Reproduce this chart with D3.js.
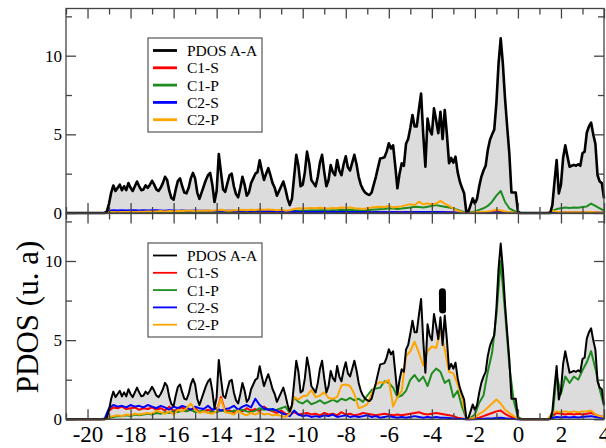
<!DOCTYPE html>
<html lang="en">
<head>
    <meta charset="UTF-8">
    <title>PDOS A-A</title>
    <script src="https://d3js.org/d3.v7.min.js"></script>
    <style>
        body { margin: 0; background: #fff; }
        svg { display: block; font-family: "Liberation Serif", "Times New Roman", serif; }
    </style>
</head>
<body>
    <svg width="606" height="448"></svg>
    <script>
        // total PDOS A-A, fine energy grid (eV)
        const energyFine = [-21.0,
            -19.3,-19.2,-19.1,-19.0,-18.9,-18.8,-18.7,-18.6,-18.5,-18.4,
            -18.3,-18.2,-18.1,-18.0,-17.9,-17.8,-17.7,-17.6,-17.5,-17.4,
            -17.3,-17.2,-17.1,-17.0,-16.9,-16.8,-16.7,-16.6,-16.5,-16.4,
            -16.3,-16.2,-16.1,-16.0,-15.9,-15.8,-15.7,-15.6,-15.5,-15.4,
            -15.3,-15.2,-15.1,-15.0,-14.9,-14.8,-14.7,-14.6,-14.5,-14.4,
            -14.3,-14.2,-14.1,-14.0,-13.9,-13.8,-13.7,-13.6,-13.5,-13.4,
            -13.3,-13.2,-13.1,-13.0,-12.9,-12.8,-12.7,-12.6,-12.5,-12.4,
            -12.3,-12.2,-12.1,-12.0,-11.9,-11.8,-11.7,-11.6,-11.5,-11.4,
            -11.3,-11.2,-11.1,-11.0,-10.9,-10.8,-10.7,-10.6,-10.5,-10.4,
            -10.3,-10.2,-10.1,-10.0,-9.9,-9.8,-9.7,-9.6,-9.5,-9.4,
            -9.3,-9.2,-9.1,-9.0,-8.9,-8.8,-8.7,-8.6,-8.5,-8.4,
            -8.3,-8.2,-8.1,-8.0,-7.9,-7.8,-7.7,-7.6,-7.5,-7.4,
            -7.3,-7.2,-7.1,-7.0,-6.9,-6.8,-6.7,-6.6,-6.5,-6.4,
            -6.3,-6.2,-6.1,-6.0,-5.9,-5.8,-5.7,-5.6,-5.5,-5.4,
            -5.3,-5.2,-5.1,-5.0,-4.9,-4.8,-4.7,-4.6,-4.5,-4.4,
            -4.3,-4.2,-4.1,-4.0,-3.9,-3.8,-3.7,-3.6,-3.5,-3.4,
            -3.3,-3.2,-3.1,-3.0,-2.9,-2.8,-2.7,-2.6,-2.5,-2.4,
            -2.3,-2.2,-2.1,-2.0,-1.9,-1.8,-1.7,-1.6,-1.5,-1.4,
            -1.3,-1.2,-1.1,-1.0,-0.9,-0.8,-0.7,-0.6,-0.5,-0.4,
            -0.3,-0.2,-0.1,0.0,0.1,0.2,0.3,0.4,0.5,0.6,
            0.7,0.8,0.9,1.0,1.1,1.2,1.3,1.4,1.5,1.6,
            1.7,1.8,1.9,2.0,2.1,2.2,2.3,2.4,2.5,2.6,
            2.7,2.8,2.9,3.0,3.1,3.2,3.3,3.4,3.5,3.6,
            3.7,3.8,3.9,4.0];

        const pdosAA = [0,
            0, 0, 0.1, 0.6, 1.3, 1.75, 1.4, 1.6, 1.8, 1.45,
            1.7, 1.45, 1.9, 1.6, 1.4, 1.7, 2.0, 1.7, 1.45, 1.5,
            1.75, 1.6, 1.8, 2.05, 1.8, 1.5, 1.4, 1.6, 1.9, 2.3,
            2.1, 1.4, 0.95, 0.85, 1.5, 2.05, 2.2, 1.7, 1.3, 1.25,
            1.6, 2.2, 2.55, 2.2, 1.3, 0.9, 1.3, 1.7, 2.1, 2.4,
            2.55, 1.8, 0.7, 1.4, 3.75, 2.6, 1.5, 1.35, 1.9, 2.4,
            2.5, 1.7, 1.2, 1.0, 1.6, 2.3, 1.8, 1.1, 1.3, 1.9,
            2.2, 2.5, 2.6, 3.35, 2.7, 2.1, 2.5, 2.85, 2.4, 1.9,
            1.6, 1.1, 1.4, 1.7, 2.0, 1.5, 0.9, 0.5, 0.9, 2.3,
            3.7, 3.0, 1.7, 1.8, 2.6, 3.9, 3.2, 2.1, 1.9, 1.7,
            2.3, 3.2, 3.7, 2.6, 1.7, 2.1, 3.05, 2.6, 2.4, 3.37,
            2.7, 2.4, 3.1, 3.6, 2.9, 2.7, 3.2, 3.7, 3.1, 2.3,
            1.8, 1.5, 1.3, 1.2, 1.15, 1.3, 1.8, 2.3, 2.9, 3.47,
            3.5, 3.55, 3.9, 4.43, 4.1, 4.3, 3.0, 1.57, 2.5, 3.16,
            3.0, 4.4, 4.7, 5.4, 6.23, 5.5, 5.5, 6.6, 7.6, 5.0,
            2.94, 6.0, 5.3, 5.0, 6.65, 5.9, 5.07, 6.44, 4.7, 6.55,
            5.0, 3.17, 3.5, 3.2, 3.58, 2.6, 2.0, 1.6, 1.25, 0.08,
            0.1, 0.5, 0.93, 0.6, 0.9, 1.68, 2.3, 2.7, 3.0, 4.0,
            4.64, 5.0, 5.3, 7.0, 9.5, 11.1, 9.5, 7.3, 5.5, 3.8,
            1.3, 1.3, 1.3, 0.1, 0, 0, 0, 0, 0, 0,
            0, 0, 0, 0, 0, 0, 0, 0, 0, 0.5,
            2.0, 3.37, 1.25, 1.8, 3.5, 4.3, 3.6, 2.94, 3.0, 3.06,
            3.0, 3.1, 3.0, 3.8, 3.9, 5.1, 5.5, 5.75, 5.0, 4.4,
            2.4, 2.0, 1.9, 0.93];

        // partial DOS, coarse energy grid (eV)
        const energyCoarse = [-21.0,
            -19.4,-19.2,-19.0,-18.8,-18.6,-18.4,-18.2,-18.0,-17.8,-17.6,
            -17.4,-17.2,-17.0,-16.8,-16.6,-16.4,-16.2,-16.0,-15.8,-15.6,
            -15.4,-15.2,-15.0,-14.8,-14.6,-14.4,-14.2,-14.0,-13.8,-13.6,
            -13.4,-13.2,-13.0,-12.8,-12.6,-12.4,-12.2,-12.0,-11.8,-11.6,
            -11.4,-11.2,-11.0,-10.8,-10.6,-10.4,-10.2,-10.0,-9.8,-9.6,
            -9.4,-9.2,-9.0,-8.8,-8.6,-8.4,-8.2,-8.0,-7.8,-7.6,
            -7.4,-7.2,-7.0,-6.8,-6.6,-6.4,-6.2,-6.0,-5.8,-5.6,
            -5.4,-5.2,-5.0,-4.8,-4.6,-4.4,-4.2,-4.0,-3.8,-3.6,
            -3.4,-3.2,-3.0,-2.8,-2.6,-2.4,-2.2,-2.0,-1.8,-1.6,
            -1.4,-1.2,-1.0,-0.8,-0.6,-0.4,-0.2,0.0,0.2,0.4,
            0.6,0.8,1.0,1.2,1.4,1.6,1.8,2.0,2.2,2.4,
            2.6,2.8,3.0,3.2,3.4,3.6,3.8,4.0];

        // upper panel
        const topC1S = [0,
            0, 0.01, 0.05, 0.06, 0.05, 0.06, 0.05, 0.06, 0.06, 0.05,
            0.06, 0.05, 0.06, 0.05, 0.06, 0.05, 0.06, 0.05, 0.06, 0.06,
            0.05, 0.06, 0.05, 0.05, 0.06, 0.1, 0.05, 0.06, 0.12, 0.05,
            0.06, 0.05, 0.06, 0.05, 0.06, 0.05, 0.07, 0.05, 0.06, 0.05,
            0.05, 0.04, 0.05, 0.04, 0.04, 0.05, 0.04, 0.05, 0.04, 0.04,
            0.04, 0.05, 0.04, 0.04, 0.05, 0.04, 0.05, 0.04, 0.04, 0.05,
            0.04, 0.04, 0.05, 0.04, 0.04, 0.05, 0.04, 0.05, 0.04, 0.04,
            0.04, 0.05, 0.05, 0.06, 0.06, 0.05, 0.06, 0.05, 0.06, 0.05,
            0.04, 0.03, 0.03, 0.02, 0.01, 0, 0, 0, 0.01, 0.02,
            0.03, 0.04, 0.05, 0.05, 0.04, 0.02, 0.01, 0, 0, 0,
            0, 0, 0, 0, 0, 0.02, 0.03, 0.03, 0.03, 0.03,
            0.03, 0.03, 0.03, 0.03, 0.04, 0.03, 0.02, 0.02];
        const topC1P = [0,
            0, 0, 0.02, 0.03, 0.03, 0.04, 0.03, 0.04, 0.04, 0.05,
            0.04, 0.05, 0.05, 0.06, 0.05, 0.06, 0.05, 0.06, 0.06, 0.07,
            0.06, 0.07, 0.06, 0.07, 0.08, 0.07, 0.08, 0.09, 0.08, 0.09,
            0.08, 0.1, 0.09, 0.1, 0.09, 0.1, 0.1, 0.12, 0.11, 0.12,
            0.1, 0.12, 0.11, 0.1, 0.12, 0.15, 0.14, 0.16, 0.15, 0.17,
            0.16, 0.18, 0.17, 0.16, 0.18, 0.17, 0.2, 0.19, 0.2, 0.18,
            0.17, 0.15, 0.18, 0.2, 0.22, 0.24, 0.26, 0.3, 0.28, 0.25,
            0.28, 0.32, 0.35, 0.4, 0.38, 0.35, 0.4, 0.45, 0.5, 0.45,
            0.4, 0.35, 0.3, 0.2, 0.1, 0.05, 0.05, 0.1, 0.2, 0.3,
            0.45, 0.72, 1.1, 1.4, 0.7, 0.3, 0.15, 0.03, 0, 0,
            0, 0, 0, 0, 0, 0.15, 0.25, 0.3, 0.35, 0.32,
            0.35, 0.33, 0.38, 0.42, 0.6, 0.45, 0.3, 0.15];
        const topC2S = [0,
            0, 0.02, 0.15, 0.17, 0.16, 0.17, 0.16, 0.18, 0.17, 0.16,
            0.17, 0.16, 0.18, 0.17, 0.16, 0.15, 0.17, 0.16, 0.15, 0.16,
            0.15, 0.14, 0.16, 0.15, 0.14, 0.15, 0.13, 0.15, 0.14, 0.15,
            0.14, 0.15, 0.13, 0.14, 0.15, 0.13, 0.16, 0.14, 0.13, 0.12,
            0.12, 0.11, 0.1, 0.09, 0.08, 0.1, 0.08, 0.07, 0.08, 0.07,
            0.08, 0.07, 0.08, 0.07, 0.08, 0.07, 0.08, 0.07, 0.06, 0.07,
            0.06, 0.07, 0.06, 0.05, 0.06, 0.05, 0.06, 0.05, 0.06, 0.05,
            0.05, 0.06, 0.05, 0.06, 0.07, 0.06, 0.07, 0.06, 0.07, 0.06,
            0.05, 0.04, 0.03, 0.02, 0.01, 0, 0, 0, 0.01, 0.01,
            0.02, 0.02, 0.03, 0.03, 0.02, 0.01, 0.01, 0, 0, 0,
            0, 0, 0, 0, 0, 0.01, 0.02, 0.02, 0.02, 0.02,
            0.02, 0.02, 0.02, 0.02, 0.03, 0.02, 0.02, 0.01];
        const topC2P = [0,
            0, 0.02, 0.05, 0.06, 0.05, 0.07, 0.06, 0.08, 0.07, 0.08,
            0.08, 0.1, 0.09, 0.1, 0.12, 0.1, 0.12, 0.11, 0.13, 0.12,
            0.14, 0.15, 0.13, 0.15, 0.14, 0.16, 0.15, 0.17, 0.2, 0.16,
            0.15, 0.18, 0.17, 0.2, 0.18, 0.2, 0.19, 0.22, 0.2, 0.22,
            0.2, 0.18, 0.2, 0.15, 0.18, 0.25, 0.3, 0.28, 0.3, 0.32,
            0.3, 0.33, 0.3, 0.28, 0.32, 0.3, 0.35, 0.33, 0.35, 0.3,
            0.28, 0.25, 0.3, 0.35, 0.38, 0.4, 0.38, 0.45, 0.35, 0.4,
            0.42, 0.5, 0.55, 0.5, 0.72, 0.55, 0.6, 0.55, 0.6, 0.77,
            0.6, 0.45, 0.3, 0.15, 0.05, 0.02, 0.02, 0.04, 0.06, 0.08,
            0.1, 0.15, 0.2, 0.18, 0.1, 0.06, 0.03, 0.01, 0, 0,
            0, 0, 0, 0, 0, 0.15, 0.08, 0.05, 0.05, 0.04,
            0.05, 0.04, 0.05, 0.05, 0.06, 0.04, 0.03, 0.02];

        // lower panel
        const botC1S = [0,
            0, 0, 0.55, 0.75, 0.7, 0.8, 0.65, 0.7, 0.75, 0.6,
            0.7, 0.65, 0.75, 0.6, 0.7, 0.55, 0.8, 0.5, 0.65, 0.75,
            0.55, 0.6, 0.7, 0.45, 0.5, 0.6, 0.5, 0.45, 1.4, 0.5,
            0.55, 0.45, 0.6, 0.5, 0.7, 0.55, 0.65, 0.5, 0.8, 0.6,
            0.5, 0.4, 0.55, 0.35, 0.3, 0.45, 0.3, 0.35, 0.4, 0.3,
            0.35, 0.25, 0.4, 0.3, 0.35, 0.25, 0.45, 0.3, 0.35, 0.25,
            0.3, 0.4, 0.35, 0.3, 0.25, 0.3, 0.35, 0.3, 0.25, 0.3,
            0.25, 0.3, 0.35, 0.4, 0.45, 0.35, 0.3, 0.35, 0.4, 0.35,
            0.3, 0.25, 0.2, 0.1, 0.05, 0, 0, 0.05, 0.1, 0.2,
            0.3, 0.4, 0.5, 0.55, 0.35, 0.2, 0.1, 0, 0, 0,
            0, 0, 0, 0, 0, 0.2, 0.4, 0.35, 0.3, 0.35,
            0.3, 0.35, 0.3, 0.35, 0.4, 0.3, 0.2, 0.15];
        const botC1P = [0,
            0, 0, 0.1, 0.15, 0.2, 0.2, 0.25, 0.2, 0.3, 0.25,
            0.3, 0.35, 0.3, 0.4, 0.35, 0.45, 0.4, 0.5, 0.45, 0.55,
            0.5, 0.6, 0.45, 0.5, 0.55, 0.4, 0.5, 0.45, 0.55, 0.5,
            0.45, 0.55, 0.5, 0.6, 0.5, 0.45, 0.55, 0.7, 0.6, 0.65,
            0.55, 0.6, 0.7, 0.8, 0.4, 1.4, 1.1, 1.0, 1.2, 0.95,
            1.05, 1.2, 1.0, 1.1, 1.25, 1.1, 1.3, 1.2, 1.35, 1.2,
            1.3, 1.1, 1.5, 1.85, 1.95, 2.0, 2.4, 2.3, 2.0, 1.4,
            1.5, 1.8, 2.5, 2.8, 2.4, 2.7, 2.1, 2.9, 3.2, 3.0,
            2.3, 2.5, 1.4, 1.8, 0.8, 0.05, 0.1, 0.3, 1.05, 1.5,
            3.0, 4.2, 6.6, 10.0, 6.8, 3.4, 1.2, 0.15, 0, 0,
            0, 0, 0, 0, 0, 0.1, 2.8, 1.6, 2.7, 2.3,
            2.7, 2.5, 3.1, 3.6, 4.3, 3.2, 1.9, 0.85];
        const botC2S = [0,
            0, 0.05, 0.7, 0.9, 0.8, 0.85, 0.75, 0.9, 0.8, 0.85,
            0.75, 0.9, 0.8, 0.7, 0.85, 0.75, 0.6, 0.8, 0.7, 0.85,
            0.75, 0.6, 0.8, 0.7, 0.65, 0.85, 0.6, 0.7, 0.55, 0.65,
            0.7, 0.85, 0.6, 0.8, 0.9, 0.75, 1.3, 0.9, 0.7, 0.6,
            0.65, 0.55, 0.4, 0.3, 0.2, 0.55, 0.3, 0.2, 0.25, 0.15,
            0.2, 0.15, 0.25, 0.2, 0.3, 0.15, 0.2, 0.25, 0.15, 0.2,
            0.15, 0.2, 0.25, 0.15, 0.2, 0.1, 0.15, 0.2, 0.15, 0.1,
            0.15, 0.1, 0.15, 0.2, 0.15, 0.1, 0.15, 0.1, 0.15, 0.1,
            0.1, 0.08, 0.05, 0.03, 0.02, 0, 0, 0, 0.02, 0.03,
            0.05, 0.05, 0.08, 0.1, 0.06, 0.04, 0.02, 0, 0, 0,
            0, 0, 0, 0, 0, 0.08, 0.15, 0.12, 0.15, 0.12,
            0.15, 0.12, 0.15, 0.18, 0.2, 0.15, 0.1, 0.08];
        const botC2P = [0,
            0, 0.02, 0.15, 0.2, 0.25, 0.2, 0.3, 0.25, 0.35, 0.3,
            0.35, 0.4, 0.35, 0.55, 0.45, 0.35, 0.5, 0.3, 0.6, 0.5,
            0.7, 1.0, 0.6, 0.4, 0.5, 0.4, 0.35, 0.5, 1.3, 0.45,
            0.4, 0.3, 0.55, 0.35, 0.25, 0.4, 0.3, 0.45, 0.3, 0.35,
            0.25, 0.3, 0.2, 0.15, 0.35, 1.4, 1.25, 1.45, 1.5, 1.85,
            1.4, 1.5, 1.7, 1.35, 1.3, 1.4, 2.15, 2.2, 2.1, 1.6,
            0.7, 0.8, 0.95, 1.6, 2.2, 2.35, 2.3, 2.5, 0.8, 1.4,
            1.8, 4.0, 4.3, 4.9, 4.2, 3.4, 4.3, 4.6, 4.5, 5.6,
            4.4, 3.0, 2.9, 2.2, 1.4, 0.1, 0.05, 0.1, 0.35, 0.5,
            0.75, 1.0, 1.25, 1.0, 0.6, 0.4, 0.2, 0.05, 0, 0,
            0, 0, 0, 0, 0, 0.45, 0.5, 0.45, 0.5, 0.45,
            0.5, 0.45, 0.5, 0.5, 0.55, 0.3, 0.2, 0.15];

        // thick black stroke near -3.5 eV in the lower panel
        const spikeE = [-3.51, -3.5];
        const spikeV = [8.05, 6.9];

        const legendLabels = ["PDOS A-A", "C1-S", "C1-P", "C2-S", "C2-P"];
        const legendColors = ["#000000", "#ff0000", "#1e8c1e", "#0000ff", "#ffa500"];
        const xMajorTicks = [-20, -18, -16, -14, -12, -10, -8, -6, -4, -2, 0, 2, 4];
        const xMinorTicks = [-21, -19, -17, -15, -13, -11, -9, -7, -5, -3, -1, 1, 3];
        const yMajorTicks = [0, 5, 10];
        const yMinorTicks = [2.5, 7.5, 12.5];

        const svg = d3.select("svg");
        const x = d3.scaleLinear().domain([-21, 4]).range([66, 604]);
        const yTop = d3.scaleLinear().domain([0, 13]).range([213, 8.5]);
        const yBot = d3.scaleLinear().domain([0, 13]).range([419.3, 213.5]);

        const axisColor = "#444";

        function drawPanel(y, partials, opts) {
            const g = svg.append("g");
            const black = d3.zip(energyFine, pdosAA);

            g.append("path")
                .datum(black)
                .attr("fill", "#dcdcdc")
                .attr("d", d3.area().x(d => x(d[0])).y0(y(0)).y1(d => y(d[1])));

            const line = d3.line().x(d => x(d[0])).y(d => y(d[1]));
            partials.forEach((vals, i) => {
                g.append("path")
                    .datum(d3.zip(energyCoarse, vals))
                    .attr("fill", "none")
                    .attr("stroke", legendColors[i + 1])
                    .attr("stroke-width", 2)
                    .attr("stroke-linejoin", "round")
                    .attr("d", line);
            });

            g.append("path")
                .datum(black)
                .attr("fill", "none")
                .attr("stroke", "#000")
                .attr("stroke-width", opts.blackWidth)
                .attr("stroke-linejoin", "round")
                .attr("d", line);

            if (opts.spike) {
                g.append("path")
                    .datum(d3.zip(spikeE, spikeV))
                    .attr("fill", "none")
                    .attr("stroke", "#000")
                    .attr("stroke-width", 7)
                    .attr("stroke-linecap", "round")
                    .attr("d", line);
            }

            // frame
            const [y0, y1] = y.range();
            g.append("rect")
                .attr("x", x.range()[0]).attr("y", y1)
                .attr("width", x.range()[1] - x.range()[0]).attr("height", y0 - y1)
                .attr("fill", "none").attr("stroke", axisColor).attr("stroke-width", 1.3);

            // inward ticks on all four sides
            const addAxis = (axis, tx, ty) => {
                const a = g.append("g").attr("transform", `translate(${tx},${ty})`).call(axis);
                a.select(".domain").remove();
                a.selectAll("line").attr("stroke", axisColor).attr("stroke-width", 1.3);
                return a;
            };
            addAxis(d3.axisBottom(x).tickValues(xMajorTicks).tickSize(-10).tickFormat(""), 0, y0);
            addAxis(d3.axisBottom(x).tickValues(xMinorTicks).tickSize(-6).tickFormat(""), 0, y0);
            addAxis(d3.axisTop(x).tickValues(xMajorTicks).tickSize(-10).tickFormat(""), 0, y1);
            addAxis(d3.axisTop(x).tickValues(xMinorTicks).tickSize(-6).tickFormat(""), 0, y1);
            addAxis(d3.axisRight(y).tickValues(yMajorTicks).tickSize(-10).tickFormat(""), x.range()[1], 0);
            addAxis(d3.axisRight(y).tickValues(yMinorTicks).tickSize(-6).tickFormat(""), x.range()[1], 0);
            addAxis(d3.axisLeft(y).tickValues(yMinorTicks).tickSize(-6).tickFormat(""), x.range()[0], 0);
            const yl = addAxis(d3.axisLeft(y).tickValues(yMajorTicks).tickSize(-10).tickPadding(4).tickFormat(d3.format("d")), x.range()[0], 0);
            yl.selectAll("text").attr("font-size", 17).attr("font-family", "Liberation Serif, serif").attr("fill", "#000");

            // legend
            const lg = g.append("g");
            lg.append("rect")
                .attr("x", 148).attr("y", opts.legendY)
                .attr("width", 114).attr("height", 94)
                .attr("fill", "#fff").attr("stroke", "#555").attr("stroke-width", 1.2);
            legendLabels.forEach((lab, i) => {
                const cy = opts.legendY + 12.5 + i * 17.3;
                lg.append("line")
                    .attr("x1", 153).attr("x2", 177).attr("y1", cy).attr("y2", cy)
                    .attr("stroke", legendColors[i]).attr("stroke-width", opts.legendLine);
                lg.append("text")
                    .attr("x", 187).attr("y", cy + 5.5)
                    .attr("font-size", 15.5)
                    .text(lab);
            });
            return g;
        }

        drawPanel(yTop, [topC1S, topC1P, topC2S, topC2P], { blackWidth: 2.6, legendY: 38, legendLine: 2.8, spike: false });
        const bot = drawPanel(yBot, [botC1S, botC1P, botC2S, botC2P], { blackWidth: 2, legendY: 243, legendLine: 1.8, spike: true });

        // x tick labels on the lower panel
        const xl = bot.append("g")
            .attr("transform", `translate(0,${yBot(0)})`)
            .call(d3.axisBottom(x).tickValues(xMajorTicks).tickSize(0).tickPadding(6).tickFormat(d3.format("d")));
        xl.select(".domain").remove();
        xl.selectAll("text").attr("font-size", 23).attr("font-family", "Liberation Serif, serif").attr("fill", "#000")
            .text(d => (d < 0 ? "-" + Math.abs(d) : d));

        // y axis title
        svg.append("text")
            .attr("transform", "translate(38,317) rotate(-90)")
            .attr("text-anchor", "middle")
            .attr("font-size", 31)
            .text("PDOS (u. a)");
    </script>
</body>
</html>
